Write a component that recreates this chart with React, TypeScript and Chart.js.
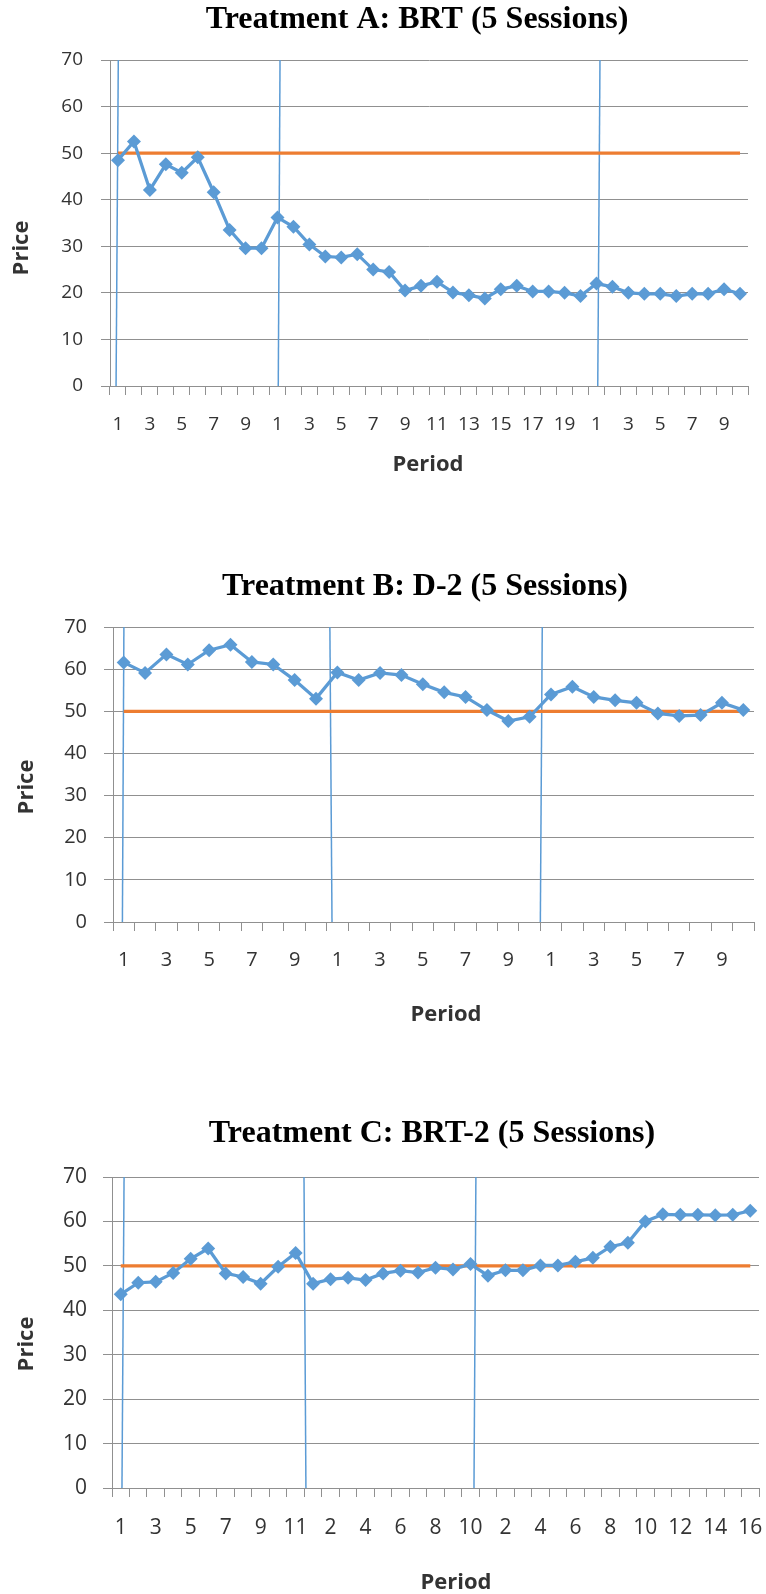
import React, { useEffect, useRef } from 'react';
import { Chart, registerables } from 'chart.js';

Chart.register(...registerables);

// ---------- data ----------
const periodsA = ['1','2','3','4','5','6','7','8','9','10',
  '1','2','3','4','5','6','7','8','9','10','11','12','13','14','15','16','17','18','19','20',
  '1','2','3','4','5','6','7','8','9','10'];
const pricesA = [48.5, 52.5, 42.1, 47.6, 45.8, 49.1, 41.6, 33.5, 29.6, 29.6,
  36.2, 34.2, 30.4, 27.8, 27.6, 28.3, 25.0, 24.5, 20.5, 21.5,
  22.4, 20.1, 19.5, 18.8, 20.8, 21.5, 20.3, 20.3, 20.0, 19.3,
  22.0, 21.3, 20.0, 19.8, 19.8, 19.3, 19.8, 19.8, 20.8, 19.8];
const breaksTopA = [0.02, 10.16, 30.22];
const breaksBottomA = [-0.12, 10.05, 30.08];

const periodsB = ['1','2','3','4','5','6','7','8','9','10',
  '1','2','3','4','5','6','7','8','9','10',
  '1','2','3','4','5','6','7','8','9','10'];
const pricesB = [61.6, 59.1, 63.5, 61.1, 64.5, 65.8, 61.7, 61.1, 57.4, 53.0,
  59.2, 57.4, 59.1, 58.6, 56.4, 54.5, 53.4, 50.3, 47.7, 48.7,
  54.0, 55.8, 53.4, 52.6, 52.0, 49.5, 48.9, 49.1, 52.0, 50.3];
const breaksTopB = [0.01, 9.65, 19.59];
const breaksBottomB = [-0.06, 9.75, 19.5];

const periodsC = ['1','2','3','4','5','6','7','8','9','10','11',
  '1','2','3','4','5','6','7','8','9','10',
  '1','2','3','4','5','6','7','8','9','10','11','12','13','14','15','16'];
const pricesC = [43.6, 46.2, 46.4, 48.4, 51.6, 53.9, 48.3, 47.5, 46.0, 49.8, 52.9,
  46.0, 47.0, 47.3, 46.8, 48.3, 48.9, 48.5, 49.6, 49.2, 50.4,
  47.8, 49.0, 49.0, 50.1, 50.1, 50.9, 51.8, 54.3, 55.2, 60.0, 61.6, 61.5, 61.5, 61.4, 61.5, 62.4];
const breaksTopC = [0.19, 10.48, 20.31];
const breaksBottomC = [0.07, 10.59, 20.2];

const referencePrice = 50;
const yTicksMin = 0;
const yTicksMax = 70;
const yTickStep = 10;
const xAxisTitle = 'Period';
const yAxisTitle = 'Price';

// ---------- styles ----------
const BLUE = '#5B9BD5';
const ORANGE = '#ED7D31';
const GRID = '#909090';
const TEXT = '#333333';
const SANS = '"Open Sans", "Noto Sans", sans-serif';
const SERIF = '"Liberation Serif", "Times New Roman", serif';

type Spec = {
  title: string;
  periods: string[];
  prices: number[];
  breaksTop: number[];
  breaksBottom: number[];
  top: number;
  height: number;
  padTop: number;
  yAxisWidth: number;
  xAxisHeight: number;
  padRight: number;
  tickSize: number;
  xTickPad: number;
  yTickPad: number;
  titleAt: [number, number];
  priceAt: [number, number];
  periodAt: [number, number];
};

const specs: Spec[] = [
  {
    title: 'Treatment A: BRT (5 Sessions)', periods: periodsA, prices: pricesA,
    breaksTop: breaksTopA, breaksBottom: breaksBottomA,
    top: 0, height: 486, padTop: 60, yAxisWidth: 110, xAxisHeight: 100, padRight: 18,
    tickSize: 19, xTickPad: 18, yTickPad: 18,
    titleAt: [417, 28], priceAt: [22, 248], periodAt: [428, 465],
  },
  {
    title: 'Treatment B: D-2 (5 Sessions)', periods: periodsB, prices: pricesB,
    breaksTop: breaksTopB, breaksBottom: breaksBottomB,
    top: 560, height: 472, padTop: 67, yAxisWidth: 113, xAxisHeight: 110, padRight: 12,
    tickSize: 20, xTickPad: 17.5, yTickPad: 17,
    titleAt: [425, 35], priceAt: [27, 227], periodAt: [446, 455],
  },
  {
    title: 'Treatment C: BRT-2 (5 Sessions)', periods: periodsC, prices: pricesC,
    breaksTop: breaksTopC, breaksBottom: breaksBottomC,
    top: 1105, height: 489, padTop: 72, yAxisWidth: 112, xAxisHeight: 106, padRight: 7,
    tickSize: 21, xTickPad: 18, yTickPad: 16,
    titleAt: [432, 37], priceAt: [27, 239], periodAt: [456, 478],
  },
];

// Draws the chart title and axis titles where the original figure places them.
const figureTextPlugin = {
  id: 'figureText',
  afterDraw(chart: any, _args: any, opts: any) {
    const ctx = chart.ctx as CanvasRenderingContext2D;
    ctx.save();
    ctx.fillStyle = '#000';
    ctx.font = `bold 32px ${SERIF}`;
    ctx.textAlign = 'center';
    ctx.textBaseline = 'alphabetic';
    ctx.fillText(opts.title, opts.titleAt[0], opts.titleAt[1]);

    ctx.fillStyle = TEXT;
    ctx.font = `bold 22px ${SANS}`;
    ctx.textBaseline = 'middle';
    ctx.fillText(opts.xText, opts.periodAt[0], opts.periodAt[1]);
    ctx.translate(opts.priceAt[0], opts.priceAt[1]);
    ctx.rotate(-Math.PI / 2);
    ctx.fillText(opts.yText, 0, 0);
    ctx.restore();
  },
};

function Panel({ spec }: { spec: Spec }) {
  const ref = useRef<HTMLCanvasElement>(null);

  useEffect(() => {
    if (!ref.current) return;
    const n = spec.periods.length;
    const separatorSets = spec.breaksTop.map((t, i) => ({
      type: 'line' as const,
      data: [{ x: t, y: yTicksMax }, { x: spec.breaksBottom[i], y: yTicksMin }],
      xAxisID: 'xs',
      yAxisID: 'y',
      borderColor: BLUE,
      borderWidth: 1.5,
      pointRadius: 0,
      fill: false,
      order: 3,
    }));
    const chart = new Chart(ref.current, {
      type: 'line',
      data: {
        labels: spec.periods,
        datasets: [
          {
            data: spec.prices,
            xAxisID: 'x',
            yAxisID: 'y',
            borderColor: BLUE,
            backgroundColor: BLUE,
            borderWidth: 3.25,
            pointStyle: 'rectRot',
            pointRadius: 7,
            pointBorderWidth: 0,
            pointBackgroundColor: BLUE,
            tension: 0,
            order: 1,
          },
          {
            data: spec.periods.map(() => referencePrice),
            xAxisID: 'x',
            yAxisID: 'y',
            borderColor: ORANGE,
            borderWidth: 3.25,
            pointRadius: 0,
            order: 2,
          },
          ...separatorSets,
        ] as any,
      },
      plugins: [figureTextPlugin],
      options: {
        animation: false,
        responsive: false,
        devicePixelRatio: 1,
        layout: { padding: { left: 0, right: spec.padRight, top: spec.padTop, bottom: 0 } },
        plugins: {
          legend: { display: false },
          tooltip: { enabled: false },
          title: { display: false },
          figureText: {
            title: spec.title,
            titleAt: spec.titleAt,
            xText: xAxisTitle,
            yText: yAxisTitle,
            priceAt: spec.priceAt,
            periodAt: spec.periodAt,
          },
        },
        scales: {
          x: {
            type: 'category',
            offset: true,
            grid: {
              offset: true,
              drawOnChartArea: false,
              drawTicks: true,
              tickLength: 9,
              color: GRID,
              lineWidth: 1,
            },
            border: { display: true, color: GRID, width: 1 },
            ticks: {
              autoSkip: false,
              maxRotation: 0,
              minRotation: 0,
              padding: spec.xTickPad,
              color: TEXT,
              font: { family: SANS, size: spec.tickSize },
              callback: (_v: any, i: number) => (i % 2 === 0 ? spec.periods[i] : ''),
            },
            afterFit: (s: any) => {
              s.height = spec.xAxisHeight;
              s.paddingLeft = 0;
              s.paddingRight = 0;
            },
          },
          xs: {
            type: 'linear',
            position: 'bottom',
            display: false,
            min: -0.5,
            max: n - 0.5,
          },
          y: {
            type: 'linear',
            min: yTicksMin,
            max: yTicksMax,
            grid: { color: GRID, lineWidth: 1, tickLength: 9, drawTicks: true },
            border: { display: true, color: GRID, width: 1 },
            ticks: {
              stepSize: yTickStep,
              padding: spec.yTickPad,
              color: TEXT,
              font: { family: SANS, size: spec.tickSize },
            },
            afterFit: (s: any) => {
              s.width = spec.yAxisWidth;
              s.paddingTop = 0;
              s.paddingBottom = 0;
            },
          },
        },
      } as any,
    });
    return () => chart.destroy();
  }, [spec]);

  return (
    <canvas
      ref={ref}
      width={766}
      height={spec.height}
      style={{ position: 'absolute', left: 0, top: spec.top, width: 766, height: spec.height, display: 'block' }}
    />
  );
}

export default function App() {
  return (
    <div style={{ position: 'absolute', left: 0, top: 0, width: 766, height: 1594, background: '#fff' }}>
      {specs.map((s, i) => (
        <Panel key={i} spec={s} />
      ))}
    </div>
  );
}
